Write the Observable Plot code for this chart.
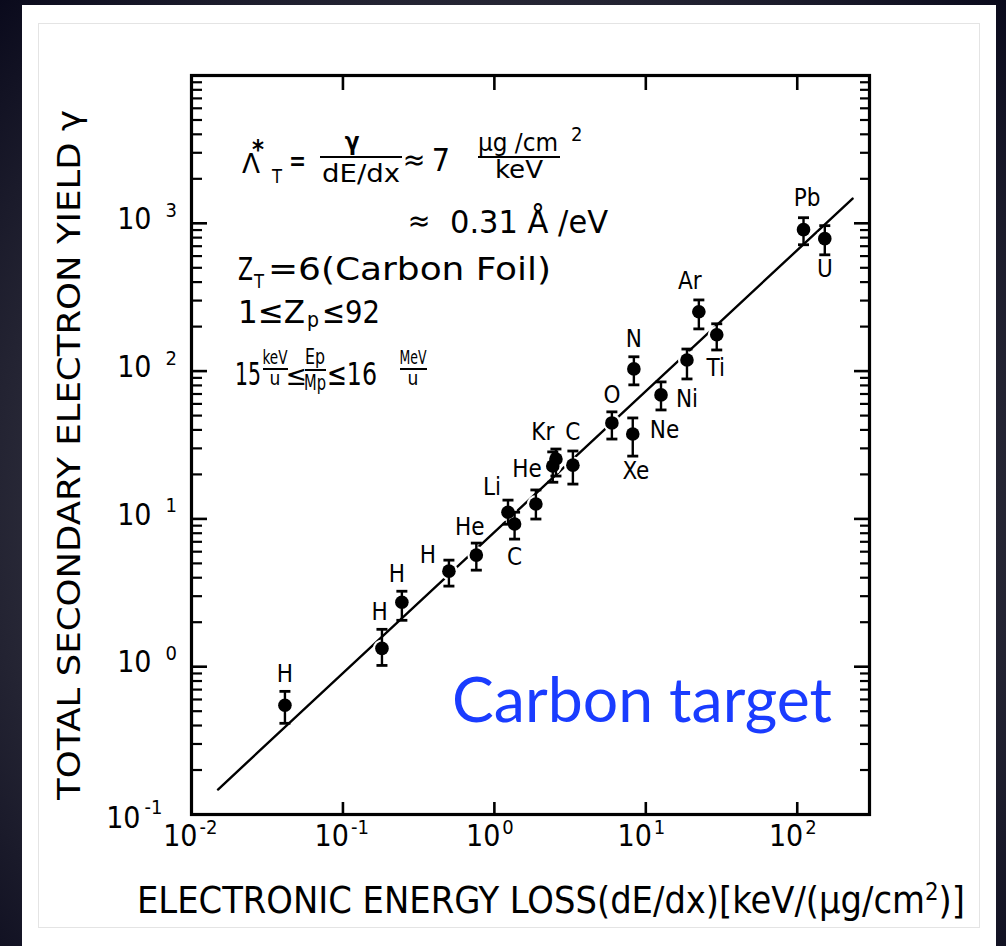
<!DOCTYPE html>
<html>
<head>
<meta charset="utf-8">
<script src="https://cdn.jsdelivr.net/npm/d3@7"></script>
<script src="https://cdn.jsdelivr.net/npm/@observablehq/plot@0.6"></script>
<style>
  html, body { margin: 0; padding: 0; }
  body {
    width: 1006px; height: 946px; overflow: hidden; position: relative;
    background: radial-gradient(ellipse at 50% 55%, #5c5c66 0%, #3c3c48 45%, #0a0a1c 100%);
  }
  #panel { position: absolute; left: 22px; top: 5px; width: 974px; height: 941px; background: #fff; }
  #inner { position: absolute; left: 38px; top: 23px; width: 942px; height: 905px;
           border: 1.5px solid #e4e4e4; box-sizing: border-box; background: #fff; }
  #chart { position: absolute; left: 0; top: 0; }
  #chart svg { font-stretch: condensed; }
</style>
</head>
<body>
<div id="panel"></div>
<div id="inner"></div>
<div id="chart"></div>
<script>
// Projectile species and measured yields (carbon foil target)
const elements   = ["H", "H", "H", "H", "He", "Li", "C", "", "He", "Kr", "C", "O", "Xe", "N", "Ni", "", "Ar", "Ti", "Pb", "U"];
const energyLoss = [0.0414, 0.181, 0.245, 0.501, 0.760, 1.23, 1.36, 1.88, 2.43, 2.55, 3.30, 5.97, 8.2, 8.34, 12.6, 18.7, 22.4, 29.4, 110, 152];
const yieldValue = [0.548, 1.33, 2.73, 4.43, 5.69, 11.1, 9.23, 12.6, 22.8, 25.4, 23.1, 44.6, 37.5, 103.5, 69, 119, 252, 176, 906, 787];
const yieldLow   = [0.414, 1.02, 2.06, 3.51, 4.50, 9.2, 7.3, 9.98, 17.7, 19.5, 17.2, 34.7, 26.6, 80.7, 54.6, 88.5, 193, 139, 716, 612];
const yieldHigh  = [0.681, 1.79, 3.24, 5.26, 6.86, 13.4, 11.1, 15.7, 28.4, 29.7, 28.8, 53, 48.2, 125, 84.5, 141, 303, 209, 1091, 964];

// Species labels, placed in data coordinates
const labelText = ["H", "H", "H", "H", "He", "Li", "C", "He", "Kr", "C", "O", "Xe", "Ne", "N", "Ni", "Ar", "Ti", "Pb", "U"];
const labelX    = [0.0414, 0.175, 0.227, 0.364, 0.689, 0.963, 1.36, 1.64, 2.09, 3.30, 5.97, 8.6, 13.3, 8.34, 18.7, 19.5, 29, 116, 152];
const labelY    = [0.889, 2.34, 4.23, 5.69, 8.79, 16.4, 5.51, 21.7, 38.7, 38.7, 69, 21.1, 40.0, 163, 64.9, 402, 105, 1469, 485];

// Proportionality fit  gamma = Lambda * dE/dx
const fitX = [0.01496, 232];
const fitY = [0.1476, 1469];

// Axis decades
const xDecades = [0.01, 0.1, 1, 10, 100];
const xExponents = ["-2", "-1", "0", "1", "2"];
const yDecades = [0.1, 1, 10, 100, 1000];
const yExponents = ["-1", "0", "1", "2", "3"];

const FONT = "'Liberation Sans Narrow', 'DejaVu Sans Condensed', 'DejaVu Sans', sans-serif";

const points = elements.map((name, i) => ({name, x: energyLoss[i], y: yieldValue[i], lo: yieldLow[i], hi: yieldHigh[i]}));
const labels = labelText.map((t, i) => ({t, x: labelX[i], y: labelY[i]}));
const fit = fitX.map((x, i) => ({x, y: fitY[i]}));
const yMinor = yDecades.flatMap(d => d3.range(2, 10).map(m => m * d));
const yTicks = yDecades.map((v, i) => ({v, e: yExponents[i]}));
const xTicks = xDecades.map((v, i) => ({v, e: xExponents[i]}));

const W = 1006, H = 946;
const mL = 191, mR = 137, mT = 75, mB = 132;
const frameW = W - mL - mR, frameH = H - mT - mB;

// horizontal cap for the error bars
const capSymbol = {draw(ctx, size) { const r = Math.sqrt(size / Math.PI); ctx.moveTo(-r, 0); ctx.lineTo(r, 0); }};

const chart = Plot.plot({
  width: W, height: H,
  marginLeft: mL, marginRight: mR, marginTop: mT, marginBottom: mB,
  style: {background: "transparent", fontFamily: FONT, color: "#000"},
  x: {type: "log", domain: [0.01, 300], axis: null},
  y: {type: "log", domain: [0.1, 10000], axis: null},
  marks: [
    // inward ticks on all four sides
    Plot.tickY(yDecades, {y: d => d, insetRight: frameW - 16, strokeWidth: 2.6}),
    Plot.tickY(yMinor, {y: d => d, insetRight: frameW - 11, strokeWidth: 2.2}),
    Plot.tickY(yDecades, {y: d => d, insetLeft: frameW - 15, strokeWidth: 2.6}),
    Plot.tickY(yMinor, {y: d => d, insetLeft: frameW - 9, strokeWidth: 2.2}),
    Plot.tickX(xDecades.slice(1), {x: d => d, insetBottom: frameH - 15, strokeWidth: 2.6}),
    Plot.tickX(xDecades.slice(1), {x: d => d, insetTop: frameH - 12, strokeWidth: 2.6}),
    Plot.frame({stroke: "#000", strokeWidth: 3.2}),

    // tick labels 10^n
    Plot.text(yTicks.filter(d => d.v >= 1), {y: "v", text: () => "10", frameAnchor: "left", textAnchor: "end", dx: -40, dy: -4, fontSize: 30}),
    Plot.text(yTicks.filter(d => d.v >= 1), {y: "v", text: "e", frameAnchor: "left", textAnchor: "start", dx: -26, dy: -13, fontSize: 20}),
    Plot.text(yTicks.filter(d => d.v < 1), {y: "v", text: () => "10", frameAnchor: "left", textAnchor: "end", dx: -51, dy: 4, fontSize: 30}),
    Plot.text(yTicks.filter(d => d.v < 1), {y: "v", text: "e", frameAnchor: "left", textAnchor: "start", dx: -47, dy: -7, fontSize: 20}),
    Plot.text(xTicks, {x: "v", text: () => "10", frameAnchor: "bottom", textAnchor: "end", dx: 6, dy: 31, fontSize: 30}),
    Plot.text(xTicks, {x: "v", text: "e", frameAnchor: "bottom", textAnchor: "start", dx: 8, dy: 19, fontSize: 20}),

    // fit line, broken where it meets the data points
    Plot.line(fit, {x: "x", y: "y", stroke: "#000", strokeWidth: 2.4}),
    Plot.dot(points, {x: "x", y: "y", r: 9, fill: "#fff"}),

    // error bars and points
    Plot.ruleX(points, {x: "x", y1: "lo", y2: "hi", stroke: "#000", strokeWidth: 2.4}),
    Plot.dot(points, {x: "x", y: "hi", symbol: capSymbol, r: 5.5, stroke: "#000", strokeWidth: 2.8, fill: "none"}),
    Plot.dot(points, {x: "x", y: "lo", symbol: capSymbol, r: 5.5, stroke: "#000", strokeWidth: 2.8, fill: "none"}),
    Plot.dot(points, {x: "x", y: "y", r: 6.8, fill: "#000"}),

    // species labels
    Plot.text(labels, {x: "x", y: "y", text: "t", fontSize: 24, fill: "#000", stroke: "#fff", strokeWidth: 3})
  ]
});

document.getElementById("chart").appendChild(chart);

// Annotations and axis titles
const svg = d3.select(chart);
const g = svg.append("g").attr("font-family", FONT).attr("fill", "#000").attr("text-anchor", "start");

function txt(str, x, y, size, o = {}) {
  const t = g.append("text").attr("x", x).attr("y", y).attr("font-size", size)
    .attr("text-anchor", o.anchor || "start").text(str);
  if (o.len) t.attr("textLength", o.len).attr("lengthAdjust", "spacingAndGlyphs");
  if (o.weight) t.attr("font-weight", o.weight);
  return t;
}
function bar(x1, x2, y) {
  g.append("line").attr("x1", x1).attr("x2", x2).attr("y1", y).attr("y2", y)
    .attr("stroke", "#000").attr("stroke-width", 2);
}

// Λ*_T = γ/(dE/dx) ≈ 7 µg/cm² / keV
txt("Λ", 242, 173, 27, {len: 18});
txt("*", 252, 159, 26, {weight: "bold", len: 12});
txt("T", 272, 183, 19, {len: 10});
txt("=", 289, 172, 32, {len: 17});
txt("γ", 352, 150, 24, {anchor: "middle", weight: "bold"});
bar(320, 402, 157);
txt("dE/dx", 361, 182, 25, {anchor: "middle", len: 78});
txt("≈", 414, 170, 30, {anchor: "middle"});
txt("7", 441, 171, 32, {anchor: "middle"});
txt("µg /cm", 478, 151, 24, {len: 80});
bar(478, 560, 157);
txt("2", 571, 141, 20);
txt("keV", 519, 178, 24, {anchor: "middle", len: 48});

// ≈ 0.31 Å/eV
txt("≈", 419, 231, 30, {anchor: "middle"});
txt("0.31 Å /eV", 450, 233, 32, {len: 158});

// Z_T = 6 (Carbon Foil)
txt("Z", 238, 280, 32, {len: 15});
txt("T", 254, 288, 20, {len: 10});
txt("=6(Carbon Foil)", 268, 280, 32, {len: 283});

// 1 ≤ Z_p ≤ 92
txt("1≤Z", 238, 323, 32, {len: 67});
txt("p", 307, 327, 22, {len: 12});
txt("≤92", 322, 323, 32, {len: 58});

// 15 keV/u ≤ Ep/Mp ≤ 16 MeV/u
txt("15", 235, 385, 32, {len: 26});
txt("keV", 275, 364, 19, {anchor: "middle", len: 25});
bar(263, 288, 369);
txt("u", 275, 385, 19, {anchor: "middle"});
txt("≤", 296, 385, 28, {anchor: "middle"});
txt("Ep", 315, 364, 21, {anchor: "middle", len: 20});
bar(305, 326, 370);
txt("Mp", 315, 390, 21, {anchor: "middle", len: 22});
txt("≤16", 327, 385, 32, {len: 50});
txt("MeV", 413, 364, 19, {anchor: "middle", len: 27});
bar(400, 427, 369);
txt("u", 413, 385, 19, {anchor: "middle"});

// Axis titles
const xt = g.append("text").attr("x", 137).attr("y", 913).attr("font-size", 38)
  .attr("text-anchor", "start")
  .attr("textLength", 828).attr("lengthAdjust", "spacingAndGlyphs");
xt.append("tspan").text("ELECTRONIC ENERGY LOSS(dE/dx)[keV/(µg/cm");
xt.append("tspan").attr("dy", -13).attr("font-size", 24).text("2");
xt.append("tspan").attr("dy", 13).text(")]");

g.append("text").attr("transform", "translate(80,800) rotate(-90)")
  .attr("text-anchor", "start")
  .attr("font-size", 32).attr("textLength", 690).attr("lengthAdjust", "spacingAndGlyphs")
  .text("TOTAL SECONDARY ELECTRON YIELD γ");

// Target label
g.append("text").attr("x", 452).attr("y", 722).attr("font-family", "Lato, 'Open Sans', sans-serif")
  .attr("text-anchor", "start")
  .attr("font-size", 62).attr("fill", "#1a3cff").attr("textLength", 380).attr("lengthAdjust", "spacingAndGlyphs")
  .text("Carbon target");
</script>
</body>
</html>
